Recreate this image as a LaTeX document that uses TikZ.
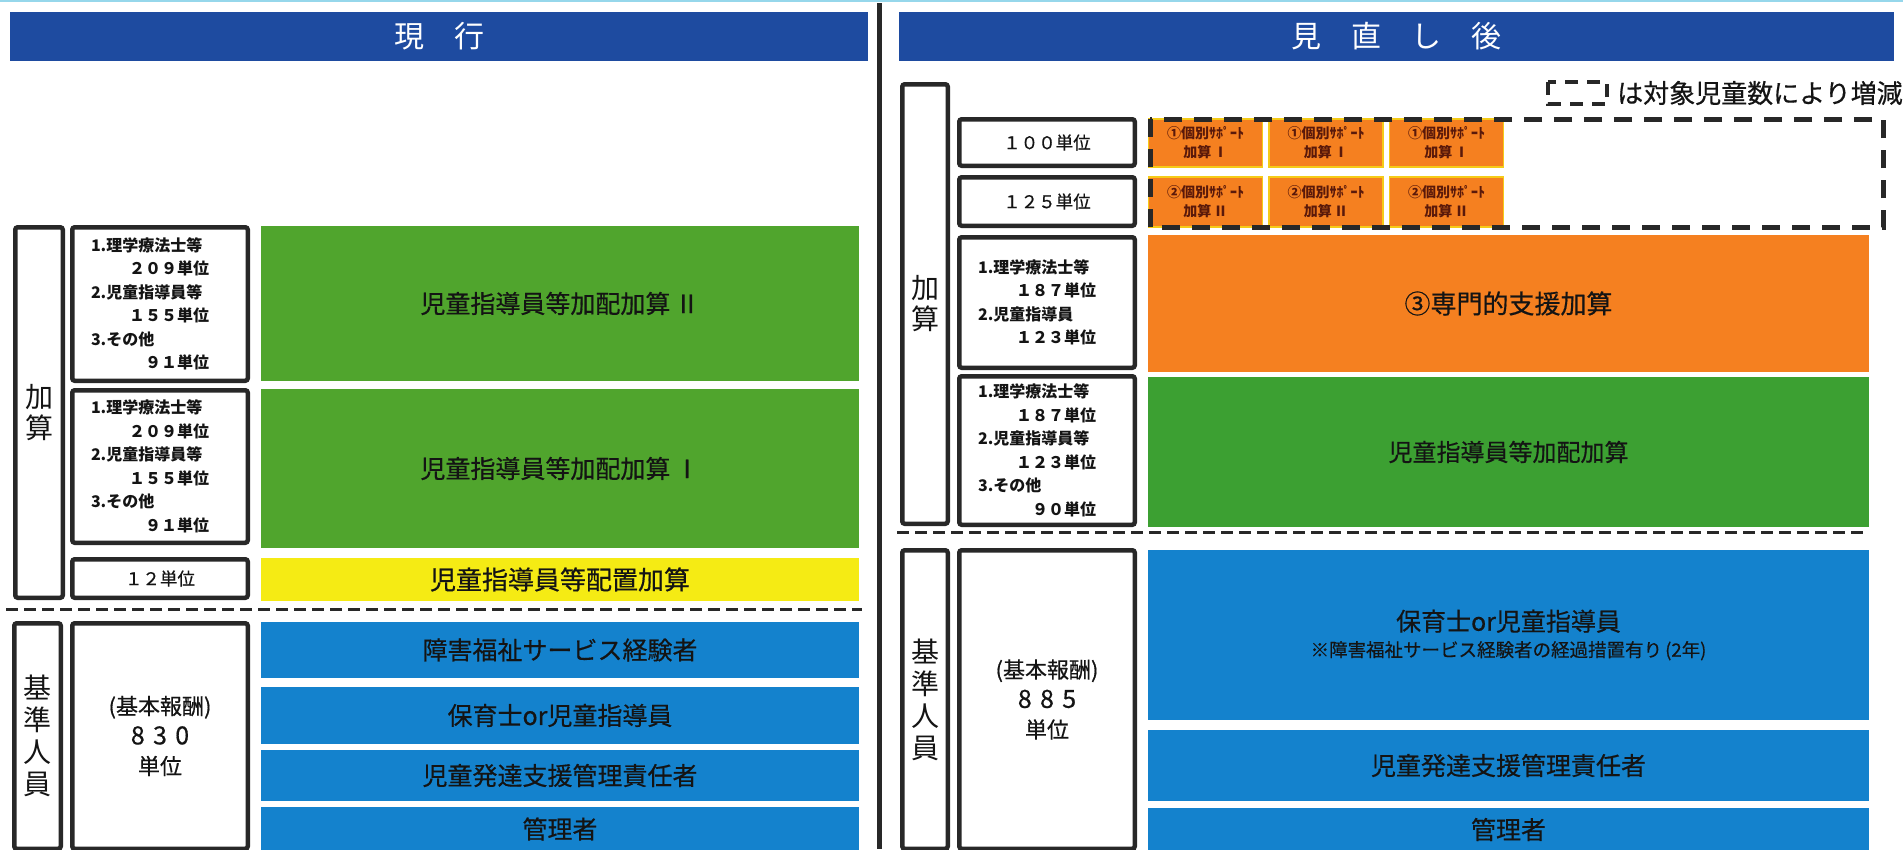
\documentclass[tikz,border=0pt]{standalone}
\usepackage{fontspec}
\setmainfont{Noto Sans CJK JP}
\newfontfamily\medfont{Noto Sans CJK JP}[FakeBold=0.5]

\definecolor{hdrc}{RGB}{30,75,160}
\definecolor{grnL}{RGB}{80,165,45}
\definecolor{grnR}{RGB}{60,160,50}
\definecolor{ylwc}{RGB}{245,235,20}
\definecolor{bluc}{RGB}{20,130,205}
\definecolor{orgc}{RGB}{245,128,32}
\definecolor{frmc}{RGB}{40,40,40}
\definecolor{txtc}{RGB}{20,20,20}
\definecolor{topc}{RGB}{150,215,235}

\newcommand\rpush{\hskip 0pt plus 1filll}
\newcommand\rgap{\rule{20pt}{0pt}}

\tikzset{
  sz/.style 2 args={minimum width=#1pt, minimum height=#2pt},
  hdr/.style={fill=hdrc, inner sep=0pt, text=white, font=\fontsize{30}{30}\selectfont},
  frm/.style={draw=frmc, line width=4.5pt, rounded corners=2.5pt, inner sep=0pt, text=txtc},
  vlabel/.style={frm, align=center, font=\fontsize{28}{31}\selectfont},
  unitbox/.style={frm, font=\medfont\fontsize{17.5}{20}\selectfont},
  listbox/.style={frm, text width=138pt, align=left, font=\bfseries\fontsize{16}{23.5}\selectfont},
  basebox/.style={frm, align=center, font=\medfont\fontsize{22}{30}\selectfont},
  colbox/.style={inner sep=0pt, text=txtc, align=center, font=\medfont\fontsize{25}{30}\selectfont},
  orgs/.style={colbox, fill=orgc, draw=ylwc!70!orgc, line width=1.2pt,
    text={rgb,255:red,90;green,25;blue,10}, font=\bfseries\fontsize{14}{19}\selectfont},
  sepline/.style={frmc, line width=3pt, dash pattern=on 12pt off 6pt},
  varline/.style={frmc, line width=5pt, dash pattern=on 18pt off 12pt}
}

\begin{document}
\begin{tikzpicture}[x=1pt,y=-1pt]
\useasboundingbox (0,0) rectangle (1903,849);
\fill[white] (0,0) rectangle (1903,849);

  %% top rule and divider
  \draw[topc, line width=2pt] (0,1) -- (1903,1);
  \draw[frmc, line width=5pt] (879,3) -- (879,849);

  %% headers
  \node[hdr, sz={858}{49}] (hdrL) at (439,36.5) {現　行};
  \node[hdr, sz={995}{49}] (hdrR) at (1396.5,36.5) {見　直　し　後};

  %% ---- current (left) ----
  \node[vlabel, sz={47.5}{370.5}] (addL) at (39,412.5) {加\\算};
  \node[listbox, sz={175.5}{153.5}] (listL2) at (160,304)
  {1.理学療法士等\\ \rpush ２０９単位\rgap\\
   2.児童指導員等\\ \rpush １５５単位\rgap\\
   3.その他\\ \rpush ９１単位\rgap};
  \node[listbox, sz={175.5}{152.5}] (listL1) at (160,466.5)
  {1.理学療法士等\\ \rpush ２０９単位\rgap\\
   2.児童指導員等\\ \rpush １５５単位\rgap\\
   3.その他\\ \rpush ９１単位\rgap};
  \node[unitbox, sz={175.5}{38.5}] (u12) at (160,578.5) {１２単位};

  \node[colbox, fill=grnL, sz={598}{155}] (addII) at (560,303.5) {児童指導員等加配加算\,Ⅱ};
  \node[colbox, fill=grnL, sz={598}{159}] (addI) at (560,468.5) {児童指導員等加配加算\,Ⅰ};
  \node[colbox, fill=ylwc, sz={598}{43}, font=\medfont\fontsize{26}{30}\selectfont] (place) at (560,579.5) {児童指導員等配置加算};

  \draw[sepline] (6,609) -- (862,609);

  \node[vlabel, sz={46.5}{225.5}, font=\fontsize{28}{32}\selectfont] (staffL) at (37.5,736) {基\\準\\人\\員};
  \node[basebox, sz={175.5}{225.5}] (baseL) at (160,736)
  {(基本報酬)\\{\fontsize{25}{30}\selectfont 8\,\,3\,\,0}\\単位};

  \node[colbox, fill=bluc, sz={598}{56}] (expL) at (560,650) {障害福祉サービス経験者};
  \node[colbox, fill=bluc, sz={598}{57}] (nurL) at (560,715.5) {保育士or児童指導員};
  \node[colbox, fill=bluc, sz={598}{51}] (mgrL) at (560,775.5) {児童発達支援管理責任者};
  \node[colbox, fill=bluc, sz={598}{44}] (admL) at (560,829) {管理者};

  %% ---- revised (right) ----
  \draw[frmc, line width=4pt, dash pattern=on 13pt off 9pt] (1548,82) rectangle (1607,104);
  \node[anchor=west, inner sep=0pt, text=txtc, font=\medfont\fontsize{26}{26}\selectfont] (legend) at (1617,93) {は対象児童数により増減};

  \node[vlabel, sz={45.5}{439.5}] (addR) at (925,304) {加\\算};
  \node[unitbox, sz={175.5}{46.5}] (u100) at (1047,142.5) {１００単位};
  \node[unitbox, sz={175.5}{48.5}] (u125) at (1047,201.5) {１２５単位};
  \node[listbox, sz={175.5}{130.5}] (listR3) at (1047,302.5)
  {1.理学療法士等\\ \rpush １８７単位\rgap\\
   2.児童指導員\\ \rpush １２３単位\rgap};
  \node[listbox, sz={175.5}{148.5}] (listR) at (1047,450.5)
  {1.理学療法士等\\ \rpush １８７単位\rgap\\
   2.児童指導員等\\ \rpush １２３単位\rgap\\
   3.その他\\ \rpush ９０単位\rgap};

  %% individual support, rows I and II
  \foreach \cx [count=\i] in {1205.5,1326,1446.5}{
    \node[orgs, sz={114}{48}] (supI\i) at (\cx,143) {①個別ｻﾎﾟｰﾄ\\加算\,Ⅰ};
    \node[orgs, sz={114}{50}] (supII\i) at (\cx,202) {②個別ｻﾎﾟｰﾄ\\加算\,Ⅱ};
  }
  \draw[varline] (1150,119) rectangle (1883,227);

  \node[colbox, fill=orgc, sz={721}{137}, font=\medfont\fontsize{26}{30}\selectfont] (spec) at (1508.5,303.5) {③専門的支援加算};
  \node[colbox, fill=grnR, sz={721}{150}, font=\medfont\fontsize{24}{30}\selectfont] (addR1) at (1508.5,452) {児童指導員等加配加算};

  \draw[sepline] (897,532) -- (1866,532);

  \node[vlabel, sz={45.5}{298.5}, font=\fontsize{28}{32}\selectfont] (staffR) at (925,699.5) {基\\準\\人\\員};
  \node[basebox, sz={175.5}{298.5}] (baseR) at (1047,699.5)
  {(基本報酬)\\{\fontsize{25}{30}\selectfont 8\,\,8\,\,5}\\単位};

  \node[colbox, fill=bluc, sz={721}{170}] (nurR) at (1508.5,635)
  {保育士or児童指導員\\[-4pt]{\fontsize{18.5}{24}\selectfont ※障害福祉サービス経験者の経過措置有り\,(2年)}};
  \node[colbox, fill=bluc, sz={721}{71}] (mgrR) at (1508.5,765.5) {児童発達支援管理責任者};
  \node[colbox, fill=bluc, sz={721}{43}] (admR) at (1508.5,829.5) {管理者};

\end{tikzpicture}
\end{document}
